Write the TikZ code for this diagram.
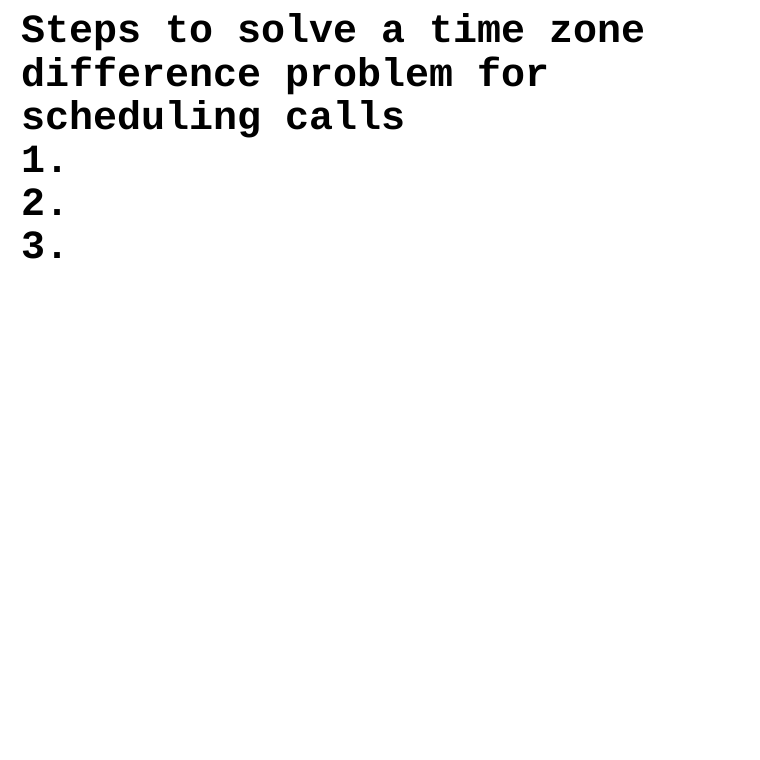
\documentclass[tikz,border=0pt]{standalone}
\usepackage{fontspec}
\setmonofont{Liberation Mono}
\begin{document}
\begin{tikzpicture}[x=1pt,y=1pt,
  txt/.style={anchor=base west, inner sep=0pt, font=\ttfamily\bfseries\fontsize{40}{43}\selectfont}]
\useasboundingbox[fill=white] (0,0) rectangle (760,-760);
\node[txt] (l1) at (21,-43) {Steps to solve a time zone};
\node[txt] (l2) at (21,-86) {difference problem for};
\node[txt] (l3) at (21,-129) {scheduling calls};
\node[txt] (l4) at (21,-172) {1.};
\node[txt] (l5) at (21,-215) {2.};
\node[txt] (l6) at (21,-258) {3.};
\end{tikzpicture}
\end{document}
